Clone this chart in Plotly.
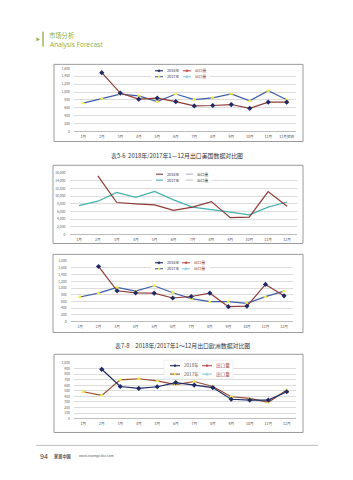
import plotly.graph_objects as go

W, H = 353, 480

months = ["1月", "2月", "3月", "4月", "5月", "6月", "7月", "8月", "9月", "10月", "11月", "12月"]
months_c1 = months[:11] + ["12月预测"]

# Chart 1: export to USA, quantity
us_qty_2018 = [None, 1490, 975, 820, 845, 760, 650, 660, 685, 590, 745, 745]
us_qty_2017 = [720, 840, 950, 905, 760, 950, 810, 855, 955, 780, 1035, 805]
# Chart 2: export to USA, second measure
us_val_2018 = [None, 15300, 8350, 8000, 7750, 6300, 7150, 8600, 4400, 4550, 11200, 7400]
us_val_2017 = [7550, 8700, 11000, 9700, 11250, 9050, 7150, 6550, 5850, 5150, 7150, 8500]
# Chart 3: export to Europe, quantity
eu_qty_2018 = [None, 1645, 920, 860, 850, 705, 750, 850, 445, 465, 1110, 770]
eu_qty_2017 = [735, 850, 1020, 910, 1070, 860, 685, 595, 595, 545, 745, 910]
# Chart 4: export to Europe, second measure
eu_val_2018 = [None, 890, 580, 545, 575, 650, 605, 560, 350, 335, 335, 485]
eu_val_2017 = [485, 420, 700, 720, 680, 615, 670, 580, 395, 365, 295, 515]

cap1 = "表5-6  2018年/2017年1－12月出口美国数据对比图"
cap3 = "表7-8　2018年/2017年1～12月出口欧洲数据对比图"

def px(x):
    return x / W

def py(y):
    return 1 - y / H

fig = go.Figure()

NAVY = "#1f2a66"
BROWN = "#8e3a36"
BLUE = "#3d5ea8"
YELLOW = "#f2ee4a"
TEAL = "#45b0ab"
BROWN4 = "#9a4a2c"

charts = [
    dict(x=(74, 296), y=(66, 130), ymax=1600, dtick=200, cats=months_c1,
         series=[(us_qty_2017, BLUE, YELLOW, "triangle-up"), (us_qty_2018, BROWN, NAVY, "diamond")]),
    dict(x=(69.5, 296.5), y=(172, 234), ymax=16000, dtick=2000, cats=months,
         series=[(us_val_2017, TEAL, None, None), (us_val_2018, BROWN, None, None)]),
    dict(x=(70.7, 293.3), y=(261, 322), ymax=1800, dtick=200, cats=months,
         series=[(eu_qty_2017, BLUE, YELLOW, "triangle-up"), (eu_qty_2018, BROWN, NAVY, "diamond")]),
    dict(x=(74, 296), y=(364, 420), ymax=1000, dtick=100, cats=months,
         series=[(eu_val_2017, BROWN4, YELLOW, "triangle-up"), (eu_val_2018, NAVY, NAVY, "diamond")]),
]

layout = dict(width=W, height=H, margin=dict(l=0, r=0, t=0, b=0),
              paper_bgcolor="white", plot_bgcolor="white", showlegend=False,
              font=dict(family="Noto Sans CJK SC, Noto Sans, sans-serif"))

for i, c in enumerate(charts):
    n = "" if i == 0 else str(i + 1)
    xa, ya = "x" + n, "y" + n
    for vals, lc, mc, sym in c["series"]:
        if mc is None:
            fig.add_trace(go.Scatter(x=c["cats"], y=vals, mode="lines", xaxis=xa, yaxis=ya,
                                     line=dict(color=lc, width=1.2), connectgaps=False))
        else:
            fig.add_trace(go.Scatter(x=c["cats"], y=vals, mode="lines+markers", xaxis=xa, yaxis=ya,
                                     line=dict(color=lc, width=1.2),
                                     marker=dict(color=mc, size=4, symbol=sym,
                                                 line=dict(width=0))))
    layout["xaxis" + n] = dict(domain=[px(c["x"][0]), px(c["x"][1])], anchor=ya,
                               type="category", range=[-0.5, 11.5], showgrid=False,
                               showline=False, ticks="", tickfont=dict(size=3.6, color="#555"),
                               ticklabelstandoff=2, zeroline=False, fixedrange=True)
    layout["yaxis" + n] = dict(domain=[py(c["y"][1]), py(c["y"][0])], anchor=xa,
                               range=[0, c["ymax"]], dtick=c["dtick"], tick0=0,
                               showgrid=True, gridcolor="#dcdcdc", gridwidth=0.6,
                               zeroline=True, zerolinecolor="#bdbdbd", zerolinewidth=0.8,
                               ticks="", tickfont=dict(size=3.4, color="#666"),
                               ticklabelstandoff=3, tickformat=",", showline=False, fixedrange=True)

fig.update_layout(**layout)

shapes = []
annotations = []

def rect(x0, y0, x1, y1, line="#9a9a9a", fill="rgba(0,0,0,0)", w=1):
    shapes.append(dict(type="rect", xref="paper", yref="paper", x0=px(x0), x1=px(x1),
                       y0=py(y1), y1=py(y0), line=dict(color=line, width=w), fillcolor=fill,
                       layer="above"))

def hline(x0, x1, y, color, w=1):
    shapes.append(dict(type="line", xref="paper", yref="paper", x0=px(x0), x1=px(x1),
                       y0=py(y), y1=py(y), line=dict(color=color, width=w), layer="above"))

def marker(cx, cy, s, color, sym):
    if sym == "triangle-up":
        pts = [(cx, cy - s), (cx + s, cy + s * 0.8), (cx - s, cy + s * 0.8)]
    elif sym == "triangle-right":
        pts = [(cx - s * 0.8, cy - s), (cx + s, cy), (cx - s * 0.8, cy + s)]
    else:
        pts = [(cx, cy - s), (cx + s, cy), (cx, cy + s), (cx - s, cy)]
    path = "M " + " L ".join(f"{px(a):.5f},{py(b):.5f}" for a, b in pts) + " Z"
    shapes.append(dict(type="path", xref="paper", yref="paper", path=path,
                       fillcolor=color, line=dict(color=color, width=0.3), layer="above"))

def text(x, y, s, size, color="#333", xanchor="left", bold=False, family=None):
    f = dict(size=size, color=color)
    if family:
        f["family"] = family
    annotations.append(dict(xref="paper", yref="paper", x=px(x), y=py(y), text=("<b>%s</b>" % s) if bold else s,
                            showarrow=False, xanchor=xanchor, yanchor="middle", font=f))

# Outer chart frames
rect(54, 62, 303, 140)
rect(53, 164, 303, 243)
rect(53, 254, 303, 333)
rect(54, 355, 303, 434)

def legend(x1, x2, y1, y2, ln, gap, items, tsize, box=None, boxline="rgba(0,0,0,0)"):
    if box:
        rect(box[0], box[1], box[2], box[3], line=boxline, fill="white", w=0.6)
    for (col, row, lc, mc, sym, label, tc) in items:
        x0 = x1 if col == 0 else x2
        y = y1 if row == 0 else y2
        hline(x0, x0 + ln, y, lc, 1.1)
        if mc:
            marker(x0 + ln / 2, y, 1.4, mc, sym)
        text(x0 + ln + gap, y, label, tsize, tc)

legend(155, 183, 68.5, 74.5, 8, 1.5, [
    (0, 0, NAVY, NAVY, "diamond", "2018年", "#333"),
    (1, 0, "#c0504d", "#c0504d", "diamond", "出口量", "#9a4030"),
    (0, 1, BLUE, YELLOW, "triangle-up", "2017年", "#333"),
    (1, 1, "#8fd0e0", "#8fd0e0", "triangle-up", "出口量", "#9a4030"),
], 3.8, box=(151, 65, 210, 78))

legend(156, 186, 173, 179, 7, 1.5, [
    (0, 0, BROWN, None, None, "2018年", "#333"),
    (1, 0, "#b8b0c8", None, None, "出口量", "#444"),
    (0, 1, TEAL, None, None, "2017年", "#333"),
    (1, 1, "#c8c8c8", None, None, "出口量", "#444"),
], 3.8, box=(152, 169, 212, 182))

legend(155, 182, 262.5, 268.5, 8, 1.5, [
    (0, 0, NAVY, NAVY, "diamond", "2018年", "#333"),
    (1, 0, "#c0504d", "#c0504d", "diamond", "出口量", "#9a4030"),
    (0, 1, BLUE, YELLOW, "triangle-up", "2017年", "#333"),
    (1, 1, "#8fd0e0", "#8fd0e0", "triangle-up", "出口量", "#9a4030"),
], 3.8, box=(151, 259, 210, 272))

legend(170, 202, 366.5, 375, 10, 2, [
    (0, 0, NAVY, NAVY, "diamond", "2018年", "#555"),
    (1, 0, "#c0504d", "#c0504d", "diamond", "出口量", "#a0452a"),
    (0, 1, BROWN4, YELLOW, "triangle-up", "2017年", "#555"),
    (1, 1, "#8fd0e0", "#8fd0e0", "triangle-up", "出口量", "#a0452a"),
], 4.6, box=(164, 361, 233, 380), boxline="#e6e6e6")

# Captions
text(176.5, 154, cap1, 5.9, "#333", xanchor="center")
text(182.5, 346, cap3, 5.9, "#333", xanchor="center")

# Header
GREEN = "#8cae3f"
marker(38, 36.8, 1.7, GREEN, "triangle-right")
shapes.append(dict(type="line", xref="paper", yref="paper", x0=px(43), x1=px(43),
                   y0=py(29), y1=py(44), line=dict(color=GREEN, width=1.3), layer="above"))
text(47.5, 33, "市场分析", 6.3, GREEN)
text(47.5, 41.5, "Analysis Forecast", 6.6, GREEN, family="Open Sans, Arial, sans-serif")

# Footer
hline(36, 318, 447, "#bdbdbd", 1)
text(37.5, 458, "94", 7, "#333", family="Liberation Sans, Arial, sans-serif")
text(51.5, 458, "<b>家居中国</b>", 4.2, "#555")
text(76.5, 458, "www.zoomgo.biz.com", 3.6, "#666", family="Liberation Sans, Arial, sans-serif")

fig.update_layout(shapes=shapes, annotations=annotations)
fig.write_html("out.html")
